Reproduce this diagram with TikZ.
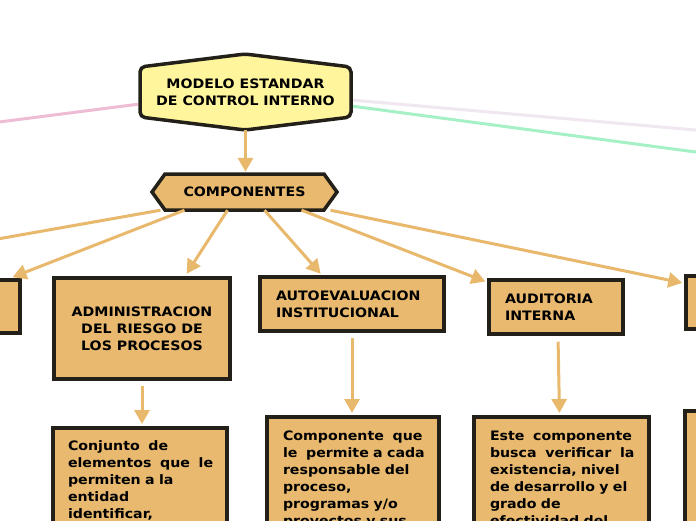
\documentclass[tikz,border=0pt]{standalone}
\usepackage{fontspec}
\setmainfont{DejaVu Sans}[FakeStretch=1.09]
\usetikzlibrary{arrows.meta,positioning}

\definecolor{boxfill}{HTML}{E8B96F}
\definecolor{topfill}{HTML}{FFF59D}
\definecolor{edge}{HTML}{222019}
\definecolor{link}{HTML}{E8B86C}
\definecolor{pinkline}{HTML}{EFBCD5}
\definecolor{lilacline}{HTML}{F1E7F1}
\definecolor{greenline}{HTML}{A6F0C6}

\hyphenpenalty=10000
\exhyphenpenalty=10000

\tikzset{
  txt/.style={font=\bfseries\fontsize{13}{17}\selectfont, inner sep=0pt},
  box/.style={txt, draw=edge, line width=3.5pt, fill=boxfill},
  link/.style={draw=link, line width=3pt, -{Triangle[length=14pt,width=15pt]}},
}

\begin{document}
\begin{tikzpicture}[x=1pt,y=-1pt]
\useasboundingbox (0,0) rectangle (696,520);
\clip (0,0) rectangle (696,520);
% top node
\coordinate (M0) at (245,54);
\coordinate (M1) at (351,67);
\coordinate (M2) at (351,117);
\coordinate (M3) at (245,130);
\coordinate (M4) at (140,117);
\coordinate (M5) at (140,67);
\draw[draw=edge, line width=3.5pt, fill=topfill, rounded corners=5pt]
  (M0)--(M1)--(M2)--(M3)--(M4)--(M5)--cycle;
\node[txt, align=center, minimum width=211pt, minimum height=76pt] (modelo) at (245.5,92)
  {MODELO ESTANDAR\\DE CONTROL INTERNO};
% components
\coordinate (C0) at (152,192);
\coordinate (C1) at (165,174);
\coordinate (C2) at (324,174);
\coordinate (C3) at (337,192);
\coordinate (C4) at (324,210);
\coordinate (C5) at (165,210);
\draw[draw=edge, line width=3.5pt, fill=boxfill]
  (C0)--(C1)--(C2)--(C3)--(C4)--(C5)--cycle;
\node[txt, minimum width=185pt, minimum height=36pt] (comp) at (244.5,192) {COMPONENTES};
%
\node[box, minimum width=100pt, minimum height=53pt] (leftbox) at (-30,306.5) {};
\node[box, align=center, minimum width=176pt, minimum height=101pt] (admin) at (142,328.5)
  {ADMINISTRACION\\DEL RIESGO DE\\LOS PROCESOS};
\node[box, align=left, text width=152pt, inner xsep=16pt, minimum height=54pt] (autoeval) at (352,304)
  {AUTOEVALUACION\\INSTITUCIONAL};
\node[box, align=left, text width=102pt, inner xsep=16pt, minimum height=54pt] (auditoria) at (556,307)
  {AUDITORIA\\INTERNA};
\node[box, minimum width=100pt, minimum height=53pt] (rightbox) at (736,302.5) {};
%
\node[box, anchor=north, align=left, text width=144pt, inner xsep=15pt, inner ysep=13pt] (desc1) at (140,426)
  {Conjunto~~de\\elementos~~que~~le\\permiten~a~la\\entidad\\identificar,};
\node[box, anchor=north, align=left, text width=140pt, inner xsep=16pt, inner ysep=14pt] (desc2) at (353,415)
  {Componente~~que\\le~~permite~a~cada\\responsable~del\\proceso,\\programas~y/o\\proyectos~y~sus};
\node[box, anchor=north, align=left, text width=143pt, inner xsep=16pt, inner ysep=14pt] (desc3) at (561.5,415)
  {Este~~componente\\busca~~verificar~~la\\existencia,~nivel\\de~desarrollo~y~el\\grado~de\\efectividad~del};
\node[box, anchor=north west, minimum width=100pt, minimum height=150pt] (desc4) at (683,409) {};
% loose ends
\coordinate (pinkend) at (-40,127);
\coordinate (lilacend) at (760,135.6);
\coordinate (greenend) at (760,160.6);
\coordinate (leftend) at (-50,247.4);
\draw[pinkline, line width=3pt, shorten <=2pt] ([yshift=-12pt]modelo.west) -- (pinkend);
\draw[lilacline, line width=3pt, shorten <=2pt] ([yshift=-8pt]modelo.east) -- (lilacend);
\draw[greenline, line width=3pt, shorten <=2pt] ([yshift=-14pt]modelo.east) -- (greenend);
%
\draw[link, shorten >=2pt] (modelo.south) -- (modelo.south |- comp.north);
\draw[draw=link, line width=3pt] ([xshift=-84pt]comp.south) -- (leftend);
\draw[link, shorten >=3pt] ([xshift=-60pt]comp.south) -- ([xshift=-12pt]leftbox.north east);
\draw[link, shorten >=3pt] ([xshift=-17pt]comp.south) -- ([xshift=43pt]admin.north);
\draw[link, shorten >=2pt] ([xshift=20pt]comp.south) -- ([xshift=-30pt]autoeval.north);
\draw[link, shorten >=2pt] ([xshift=57pt]comp.south) -- ([yshift=-4pt]auditoria.north west);
\draw[link, shorten >=2pt] ([xshift=86pt]comp.south) -- ([yshift=-9pt]rightbox.north west);
%
\draw[link, shorten <=5pt, shorten >=2pt] (admin.south) -- (admin.south |- desc1.north);
\draw[link, shorten <=5pt, shorten >=2pt] (autoeval.south) -- (autoeval.south |- desc2.north);
\draw[link, shorten <=6pt, shorten >=2pt] ([xshift=2pt]auditoria.south) -- ([xshift=-2pt]desc3.north);
\end{tikzpicture}
\end{document}
